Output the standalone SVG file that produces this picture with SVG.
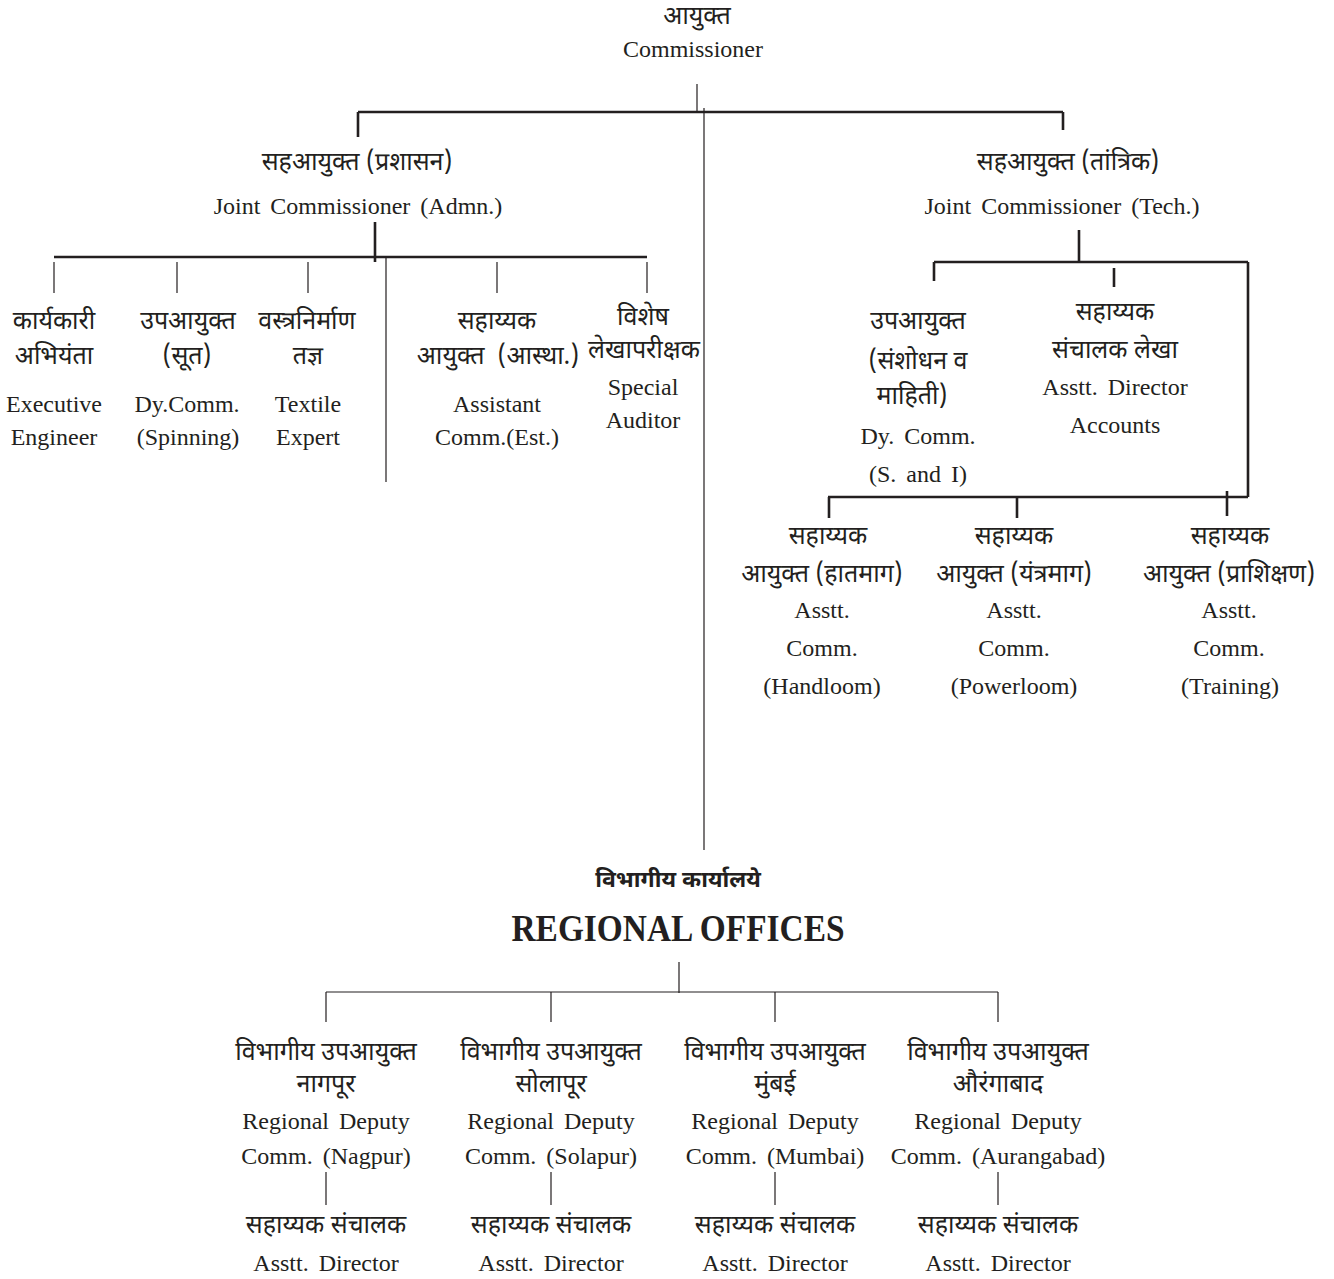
<svg xmlns="http://www.w3.org/2000/svg" width="1334" height="1279" viewBox="0 0 1334 1279">
<style>
text{fill:#231f20;text-anchor:middle}
.en{font-family:"Liberation Serif","Times New Roman",serif;font-size:24px;word-spacing:4px}
.hi{font-family:"Noto Sans Devanagari","Noto Sans","Liberation Sans",sans-serif;font-size:25px}
.hb{font-family:"Noto Sans Devanagari","Noto Sans","Liberation Sans",sans-serif;font-size:23px;font-weight:bold}
.big{font-family:"Liberation Serif","Times New Roman",serif;font-size:37px;font-weight:bold}
.thick{stroke:#231f20;stroke-width:2.6;fill:none}
.thin{stroke:#231f20;stroke-width:1.2;fill:none}
</style>
<rect width="1334" height="1279" fill="#fff"/>
<g id="connectors">
<path class="thick" d="M358 112H1063M358 112V137M1063 112V130M375 222V262M54 257H647M1079 230V262M934 262H1248M934 262V281M1248 262V497M828 497H1248M829 497V518M1017 497V518M1227 491V516M1114 268V287"/>
<path class="thin" d="M697 84V112M704 108V850M386 257V482M54 262V293M177 262V293M308 262V293M497 262V293M647 262V293M679 962V993M326 992H998M326 992V1022M551 992V1022M775 992V1022M998 992V1022M326 1172V1205M551 1172V1205M775 1172V1205M998 1172V1205"/>
</g>
<g id="commissioner"><text class="hi" x="697" y="24">आयुक्त</text><text class="en" x="693" y="57">Commissioner</text></g>
<g id="jc-admn"><text class="hi" x="357" y="170">सहआयुक्त (प्रशासन)</text><text class="en" x="358" y="214">Joint Commissioner (Admn.)</text></g>
<g id="jc-tech"><text class="hi" x="1068" y="170">सहआयुक्त (तांत्रिक)</text><text class="en" x="1062" y="214">Joint Commissioner (Tech.)</text></g>
<g id="exec-engineer"><text class="hi" x="54" y="329">कार्यकारी</text><text class="hi" x="54" y="364">अभियंता</text><text class="en" x="54" y="412">Executive</text><text class="en" x="54" y="445">Engineer</text></g>
<g id="dy-spinning"><text class="hi" x="188" y="329">उपआयुक्त</text><text class="hi" x="187" y="364">(सूत)</text><text class="en" x="187" y="412">Dy.Comm.</text><text class="en" x="188" y="445">(Spinning)</text></g>
<g id="textile-expert"><text class="hi" x="307" y="329">वस्त्रनिर्माण</text><text class="hi" x="308" y="364">तज्ञ</text><text class="en" x="308" y="412">Textile</text><text class="en" x="308" y="445">Expert</text></g>
<g id="asst-est"><text class="hi" x="497" y="329">सहाय्यक</text><text class="hi" x="498" y="364" xml:space="preserve">आयुक्त  (आस्था.)</text><text class="en" x="497" y="412">Assistant</text><text class="en" x="497" y="445">Comm.(Est.)</text></g>
<g id="special-auditor"><text class="hi" x="643" y="325">विशेष</text><text class="hi" x="644" y="358">लेखापरीक्षक</text><text class="en" x="643" y="395">Special</text><text class="en" x="643" y="428">Auditor</text></g>
<g id="dy-si"><text class="hi" x="918" y="329">उपआयुक्त</text><text class="hi" x="918" y="369">(संशोधन व</text><text class="hi" x="912" y="404">माहिती)</text><text class="en" x="918" y="444">Dy. Comm.</text><text class="en" x="918" y="482">(S. and I)</text></g>
<g id="asst-accounts"><text class="hi" x="1115" y="320">सहाय्यक</text><text class="hi" x="1115" y="358">संचालक लेखा</text><text class="en" x="1115" y="395">Asstt. Director</text><text class="en" x="1115" y="433">Accounts</text></g>
<g id="handloom"><text class="hi" x="828" y="544">सहाय्यक</text><text class="hi" x="822" y="582">आयुक्त (हातमाग)</text><text class="en" x="822" y="618">Asstt.</text><text class="en" x="822" y="656">Comm.</text><text class="en" x="822" y="694">(Handloom)</text></g>
<g id="powerloom"><text class="hi" x="1014" y="544">सहाय्यक</text><text class="hi" x="1014" y="582">आयुक्त (यंत्रमाग)</text><text class="en" x="1014" y="618">Asstt.</text><text class="en" x="1014" y="656">Comm.</text><text class="en" x="1014" y="694">(Powerloom)</text></g>
<g id="training"><text class="hi" x="1230" y="544">सहाय्यक</text><text class="hi" x="1229" y="582">आयुक्त (प्राशिक्षण)</text><text class="en" x="1229" y="618">Asstt.</text><text class="en" x="1229" y="656">Comm.</text><text class="en" x="1230" y="694">(Training)</text></g>
<g id="regional-offices"><text class="hb" x="678" y="887">विभागीय कार्यालये</text><text class="big" x="678" y="941" textLength="333" lengthAdjust="spacingAndGlyphs">REGIONAL OFFICES</text></g>
<g id="rdc-nagpur"><text class="hi" x="326" y="1060">विभागीय उपआयुक्त</text><text class="hi" x="326" y="1092">नागपूर</text><text class="en" x="326" y="1129">Regional Deputy</text><text class="en" x="326" y="1164">Comm. (Nagpur)</text></g>
<g id="ad-nagpur"><text class="hi" x="326" y="1233">सहाय्यक संचालक</text><text class="en" x="326" y="1271">Asstt. Director</text></g>
<g id="rdc-solapur"><text class="hi" x="551" y="1060">विभागीय उपआयुक्त</text><text class="hi" x="551" y="1092">सोलापूर</text><text class="en" x="551" y="1129">Regional Deputy</text><text class="en" x="551" y="1164">Comm. (Solapur)</text></g>
<g id="ad-solapur"><text class="hi" x="551" y="1233">सहाय्यक संचालक</text><text class="en" x="551" y="1271">Asstt. Director</text></g>
<g id="rdc-mumbai"><text class="hi" x="775" y="1060">विभागीय उपआयुक्त</text><text class="hi" x="775" y="1092">मुंबई</text><text class="en" x="775" y="1129">Regional Deputy</text><text class="en" x="775" y="1164">Comm. (Mumbai)</text></g>
<g id="ad-mumbai"><text class="hi" x="775" y="1233">सहाय्यक संचालक</text><text class="en" x="775" y="1271">Asstt. Director</text></g>
<g id="rdc-aurangabad"><text class="hi" x="998" y="1060">विभागीय उपआयुक्त</text><text class="hi" x="998" y="1092">औरंगाबाद</text><text class="en" x="998" y="1129">Regional Deputy</text><text class="en" x="998" y="1164">Comm. (Aurangabad)</text></g>
<g id="ad-aurangabad"><text class="hi" x="998" y="1233">सहाय्यक संचालक</text><text class="en" x="998" y="1271">Asstt. Director</text></g>
</svg>
